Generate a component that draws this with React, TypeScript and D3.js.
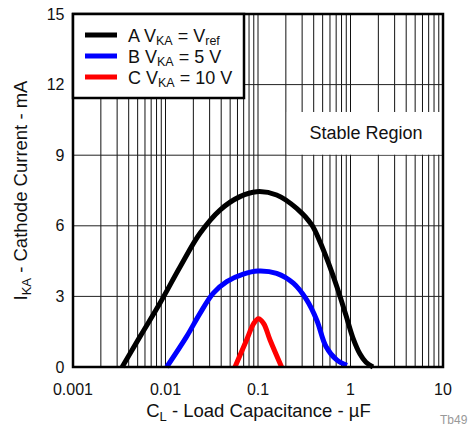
import React from "react";
import * as d3 from "d3";

const xTickValues = [0.001, 0.01, 0.1, 1, 10];
const xTickLabels = ["0.001", "0.01", "0.1", "1", "10"];
const yTickValues = [0, 3, 6, 9, 12, 15];

const seriesA: [number, number][] = [
  [0.0034, 0], [0.0053, 1.29], [0.0087, 2.71], [0.0144, 4.26], [0.0236, 5.68],
  [0.0388, 6.67], [0.0638, 7.24], [0.097, 7.45], [0.159, 7.31], [0.262, 6.74],
  [0.38, 6.05], [0.47, 5.3], [0.58, 4.4], [0.714, 3.4], [0.893, 2.2], [1.064, 1.23],
  [1.267, 0.55], [1.47, 0.2], [1.75, 0],
];
const seriesB: [number, number][] = [
  [0.0103, 0], [0.0169, 1.29], [0.0236, 2.28], [0.0327, 3.13], [0.0459, 3.63],
  [0.0693, 3.95], [0.1, 4.08], [0.159, 3.98], [0.241, 3.56], [0.336, 2.85],
  [0.431, 2.0], [0.545, 0.86], [0.71, 0.3], [0.916, 0.07],
];
const seriesC: [number, number][] = [
  [0.0564, 0], [0.0753, 1.15], [0.09, 1.85], [0.101, 2.05], [0.115, 1.85],
  [0.135, 1.15], [0.18, 0],
];

const seriesColors = ["#000000", "#0000ff", "#ff0000"];

const W = 473;
const H = 428;
const L = 73, R = 443, T = 14, B = 367;
const font = "'Liberation Sans', Arial, sans-serif";

export default function App() {
  const x = d3.scaleLog().domain([0.001, 10]).range([L, R]);
  const y = d3.scaleLinear().domain([0, 15]).range([B, T]);
  const line = d3
    .line<[number, number]>()
    .x((d) => x(d[0]))
    .y((d) => y(d[1]))
    .curve(d3.curveCatmullRom.alpha(0.5));

  const minor: number[] = [];
  for (let e = -3; e < 1; e++) {
    for (let k = 1; k <= 9; k++) {
      const v = k * Math.pow(10, e);
      if (v > 0.001) minor.push(v);
    }
  }

  const series = [seriesA, seriesB, seriesC];

  return (
    <svg
      width={W}
      height={H}
      style={{ position: "absolute", left: 0, top: 0, background: "#fff" }}
      fontFamily={font}
    >
      <rect x={0} y={0} width={W} height={H} fill="#fff" />
      {minor.map((v, i) => (
        <line key={"v" + i} x1={x(v)} x2={x(v)} y1={T} y2={B} stroke="#111" strokeWidth={1} />
      ))}
      {yTickValues.slice(1, -1).map((v) => (
        <line key={"h" + v} x1={L} x2={R} y1={y(v)} y2={y(v)} stroke="#222" strokeWidth={1} />
      ))}
      <rect x={x(0.2) + 1} y={112} width={R - x(0.2) - 1} height={y(9) - 112 - 0.5} fill="#fff" />
      <text x={366} y={139} fontSize={18} textAnchor="middle" fill="#111">
        Stable Region
      </text>
      {series.map((s, i) => (
        <path key={"s" + i} d={line(s) || ""} fill="none" stroke={seriesColors[i]} strokeWidth={5} strokeLinejoin="round" />
      ))}
      <rect x={L} y={T} width={R - L} height={B - T} fill="none" stroke="#000" strokeWidth={2.5} />
      <rect x={L} y={T} width={171} height={84} fill="#fff" stroke="#000" strokeWidth={2.5} />
      {[
        { y: 35, label: ["A V", "KA", " = V", "ref"] },
        { y: 56, label: ["B V", "KA", " = 5 V"] },
        { y: 77, label: ["C V", "KA", " = 10 V"] },
      ].map((item, i) => (
        <g key={"lg" + i}>
          <line x1={85} x2={117} y1={item.y} y2={item.y} stroke={seriesColors[i]} strokeWidth={5} />
          <text x={128} y={item.y + 7} fontSize={18} fill="#111">
            <tspan>{item.label[0]}</tspan>
            <tspan fontSize={12.5} dy={3}>{item.label[1]}</tspan>
            <tspan dy={-3}>{item.label[2]}</tspan>
            {item.label[3] && (
              <tspan fontSize={12.5} dy={3}>{item.label[3]}</tspan>
            )}
          </text>
        </g>
      ))}
      {yTickValues.map((v) => (
        <text key={"yt" + v} x={64.5} y={y(v) + 5.5} fontSize={16} textAnchor="end" fill="#111">
          {v}
        </text>
      ))}
      {xTickValues.map((v, i) => (
        <text key={"xt" + v} x={x(v)} y={395} fontSize={16} textAnchor="middle" fill="#111">
          {xTickLabels[i]}
        </text>
      ))}
      <text x={258.5} y={417} fontSize={18.5} textAnchor="middle" fill="#111">
        <tspan>C</tspan>
        <tspan fontSize={13} dy={3.5}>L</tspan>
        <tspan dy={-3.5}> - Load Capacitance - µF</tspan>
      </text>
      <text transform={`translate(27, ${(T + B) / 2}) rotate(-90)`} fontSize={18.5} textAnchor="middle" fill="#111">
        <tspan>I</tspan>
        <tspan fontSize={13} dy={3.5}>KA</tspan>
        <tspan dy={-3.5}> - Cathode Current - mA</tspan>
      </text>
      <text x={440} y={424} fontSize={12} fill="#999">Tb49</text>
    </svg>
  );
}
